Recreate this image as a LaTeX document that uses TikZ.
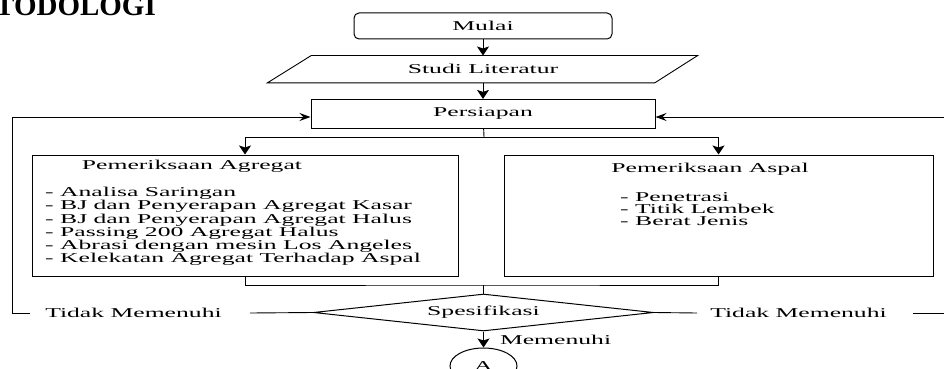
\documentclass[tikz,border=0pt]{standalone}
\usepackage{fontspec}
\setmainfont{Liberation Serif}[FakeStretch=1.9]
\newfontfamily\headfont{Liberation Serif}
\usetikzlibrary{arrows.meta,positioning,shapes.geometric}

\begin{document}
\begin{tikzpicture}[
    x=1pt, y=-1pt,
    font=\fontsize{13.5}{12}\selectfont,
    box/.style={rectangle, draw, line width=1pt, inner sep=0pt},
    arrow/.style={-{Stealth[length=9pt,width=12pt,inset=2pt]}, line width=1pt},
    feed/.style={-{Stealth[length=11pt,width=8pt,inset=4pt]}, line width=0.9pt},
    line/.style={line width=0.9pt}
]
    \useasboundingbox (0,0) rectangle (944,369);
    \node[anchor=base west, inner sep=0pt, font=\headfont\bfseries\fontsize{29}{31}\selectfont] (judul) at (-5,15.5) {TODOLOGI};

    % alur utama
    \node[box, rounded corners=5pt, minimum width=258pt, minimum height=26pt] (mulai) at (483,26) {Mulai};
    \node[minimum width=343pt, minimum height=27pt, inner sep=0pt, below=16pt of mulai] (studi) {Studi Literatur};
    \draw[line] ([xshift=-44pt]studi.south west) -- (studi.north west) -- ([xshift=43pt]studi.north east) -- (studi.south east) -- cycle;
    \node[box, minimum width=344pt, minimum height=29pt, below=16pt of studi] (persiapan) {Persiapan};

    \draw[arrow] (mulai) -- (studi);
    \draw[arrow] (studi) -- (persiapan);

    % pemeriksaan
    \node[box, minimum width=426pt, minimum height=121pt] (agregat) at (245,215.5) {};
    \node (agregatT) at (192,166) {Pemeriksaan Agregat};
    \node[anchor=north west, align=left, inner sep=0pt] (agregatL) at (45,187) {- Analisa Saringan\\
        - BJ dan Penyerapan Agregat Kasar\\
        - BJ dan Penyerapan Agregat Halus\\
        - Passing 200 Agregat Halus\\
        - Abrasi dengan mesin Los Angeles\\
        - Kelekatan Agregat Terhadap Aspal};

    \node[box, minimum width=429pt, minimum height=121pt] (aspal) at (718.5,215.5) {};
    \node (aspalT) at (710,169) {Pemeriksaan Aspal};
    \node[anchor=north west, align=left, inner sep=0pt] (aspalL) at (620,192) {- Penetrasi\\
        - Titik Lembek\\
        - Berat Jenis};

    \coordinate (split) at (484,137);
    \draw[line] (persiapan) -- (split);
    \draw[arrow] (split) -| (agregat);
    \draw[arrow] (split) -| (aspal);

    % keputusan
    \node[draw, diamond, aspect=9, line width=1pt, minimum width=340pt, minimum height=37pt, inner sep=0pt] (spek) at (483.5,312.5) {Spesifikasi};
    \coordinate (merge) at (483.5,285);
    \draw[line] (agregat.south) |- (merge) -| (aspal.south);
    \draw[line] (merge) -- (spek.north);

    \node[draw, ellipse, line width=1pt, minimum width=67pt, minimum height=36pt, inner sep=0pt] (conA) at (483.5,366) {A};
    \draw[arrow] (spek.south) -- node[anchor=west, xshift=16pt, inner sep=0pt] (memenuhi) {Memenuhi} (conA.north);

    % tidak memenuhi
    \node[inner sep=0pt] (tidakL) at (133.5,313) {Tidak Memenuhi};
    \node[inner sep=0pt] (tidakR) at (798.5,313) {Tidak Memenuhi};
    \coordinate (fbL) at (12,117);
    \coordinate (fbR) at (952,117);
    \draw[line] (spek.west) -- ([xshift=28pt]tidakL.east);
    \draw[feed] ([xshift=-15pt]tidakL.west) -| (fbL) -- (fbL -| persiapan.west);
    \draw[line] (spek.east) -- ([xshift=-13pt]tidakR.west);
    \draw[feed] ([xshift=26pt]tidakR.east) -| (fbR) -- (fbR -| persiapan.east);
\end{tikzpicture}
\end{document}
